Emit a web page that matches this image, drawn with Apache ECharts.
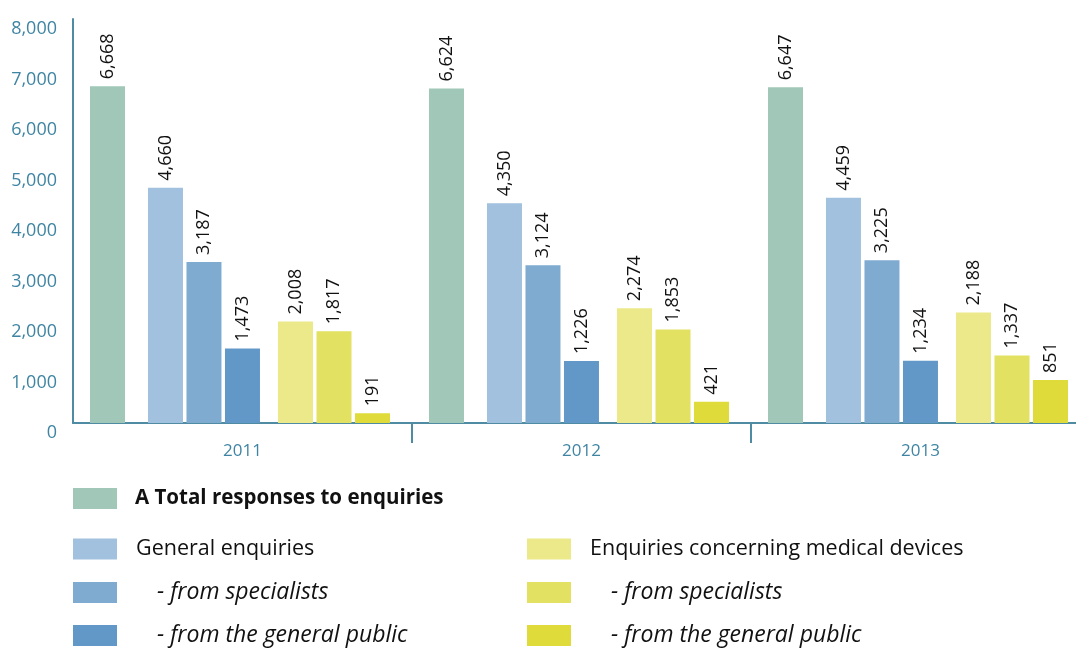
<!DOCTYPE html>
<html>
<head>
<meta charset="utf-8">
<script src="https://cdn.jsdelivr.net/npm/echarts@6/dist/echarts.min.js"></script>
<style>
  html, body { margin: 0; padding: 0; background: #ffffff; }
  #chart { width: 1076px; height: 648px; }
</style>
</head>
<body>
<div id="chart"></div>
<script>
// Enquiry response counts per year
const years = ['2011', '2012', '2013'];
const totalResponses = [6668, 6624, 6647];
const generalEnquiries = [4660, 4350, 4459];
const generalFromSpecialists = [3187, 3124, 3225];
const generalFromPublic = [1473, 1226, 1234];
const deviceEnquiries = [2008, 2274, 2188];
const deviceFromSpecialists = [1817, 1853, 1337];
const deviceFromPublic = [191, 421, 851];

// Value axis range
const yMin = 0;
const yMax = 8000;
const yStep = 1000;

// Series names and the legend text shown for each
const names = {
  total: 'A Total responses to enquiries',
  general: 'General enquiries',
  generalSpec: 'General enquiries - from specialists',
  generalPub: 'General enquiries - from the general public',
  device: 'Enquiries concerning medical devices',
  deviceSpec: 'Enquiries concerning medical devices - from specialists',
  devicePub: 'Enquiries concerning medical devices - from the general public'
};
const legendLabels = {
  [names.total]: '{b|A Total responses to enquiries}',
  [names.general]: '{n|General enquiries}',
  [names.generalSpec]: '{i|- from specialists}',
  [names.generalPub]: '{i|- from the general public}',
  [names.device]: '{n|Enquiries concerning medical devices}',
  [names.deviceSpec]: '{i|- from specialists}',
  [names.devicePub]: '{i|- from the general public}'
};

const colors = {
  total: '#a0c7b7',
  general: '#a1c1de',
  generalSpec: '#7fabd1',
  generalPub: '#6298c7',
  device: '#ebe98a',
  deviceSpec: '#e2e161',
  devicePub: '#dedb3a'
};

const axisColor = '#4f8ba3';
const axisTextColor = '#3f85a3';
const fmt = v => Number(v).toLocaleString('en-US');

function barSeries(name, data, color) {
  return {
    name: name,
    type: 'bar',
    data: data,
    barWidth: 35,
    barGap: '10%',
    itemStyle: { color: color },
    emphasis: { disabled: true },
    label: {
      show: true,
      position: 'top',
      rotate: 90,
      align: 'left',
      verticalAlign: 'middle',
      distance: 7,
      fontFamily: 'Open Sans',
      fontSize: 18,
      color: '#111111',
      formatter: p => fmt(p.value)
    }
  };
}

// Empty bars that only reserve room between the bar groups
function spacer(id, width) {
  return {
    id: id,
    name: id,
    type: 'bar',
    data: years.map(() => null),
    barWidth: width,
    barGap: '10%',
    silent: true,
    legendHoverLink: false,
    itemStyle: { color: 'transparent' }
  };
}

const legendTextStyle = {
  fontFamily: 'Open Sans',
  fontSize: 21,
  color: '#111111',
  lineHeight: 21,
  rich: {
    b: { fontFamily: 'Open Sans', fontSize: 20.5, fontWeight: 'bold', color: '#111111', lineHeight: 21, padding: [0, 0, 0, 13] },
    n: { fontFamily: 'Open Sans', fontSize: 21.5, color: '#111111', lineHeight: 21, padding: [0, 0, 0, 14] },
    i: { fontFamily: 'Open Sans', fontSize: 23, fontStyle: 'italic', color: '#111111', lineHeight: 21, padding: [0, 0, 0, 35] }
  }
};

// One legend entry placed at a given spot
function legendAt(name, left, top) {
  return {
    left: left,
    top: top,
    padding: 0,
    icon: 'rect',
    itemWidth: 44,
    itemHeight: 21,
    data: [name],
    formatter: n => legendLabels[n],
    textStyle: legendTextStyle
  };
}

const chart = echarts.init(document.getElementById('chart'), null, { renderer: 'canvas' });

chart.setOption({
  animation: false,
  backgroundColor: '#ffffff',
  grid: { left: 73, top: 19, width: 1017, height: 404, outerBoundsMode: 'none' },
  xAxis: {
    type: 'category',
    data: years,
    axisLine: { show: true, lineStyle: { color: axisColor, width: 2 } },
    axisTick: {
      show: true,
      length: 20,
      interval: (index) => index > 0,
      lineStyle: { color: axisColor, width: 2 }
    },
    axisLabel: {
      color: axisTextColor,
      fontFamily: 'Open Sans',
      fontSize: 17,
      margin: 20
    }
  },
  yAxis: {
    type: 'value',
    min: yMin,
    max: yMax,
    interval: yStep,
    splitLine: { show: false },
    axisTick: { show: false },
    axisLine: { show: true, lineStyle: { color: axisColor, width: 2 } },
    axisLabel: {
      color: axisTextColor,
      fontFamily: 'Open Sans',
      fontSize: 18,
      margin: 16,
      verticalAlign: 'top',
      lineHeight: 20,
      formatter: v => fmt(v)
    }
  },
  legend: [
    legendAt(names.total, 73, 488),
    legendAt(names.general, 73, 538),
    legendAt(names.generalSpec, 73, 581),
    legendAt(names.generalPub, 73, 624),
    legendAt(names.device, 527, 538),
    legendAt(names.deviceSpec, 527, 581),
    legendAt(names.devicePub, 527, 624)
  ],
  series: [
    barSeries(names.total, totalResponses, colors.total),
    spacer('gapA', 17.7),
    barSeries(names.general, generalEnquiries, colors.general),
    barSeries(names.generalSpec, generalFromSpecialists, colors.generalSpec),
    barSeries(names.generalPub, generalFromPublic, colors.generalPub),
    spacer('gapB', 13.2),
    barSeries(names.device, deviceEnquiries, colors.device),
    barSeries(names.deviceSpec, deviceFromSpecialists, colors.deviceSpec),
    barSeries(names.devicePub, deviceFromPublic, colors.devicePub),
    spacer('gapC', 1.5)
  ]
});
</script>
</body>
</html>
